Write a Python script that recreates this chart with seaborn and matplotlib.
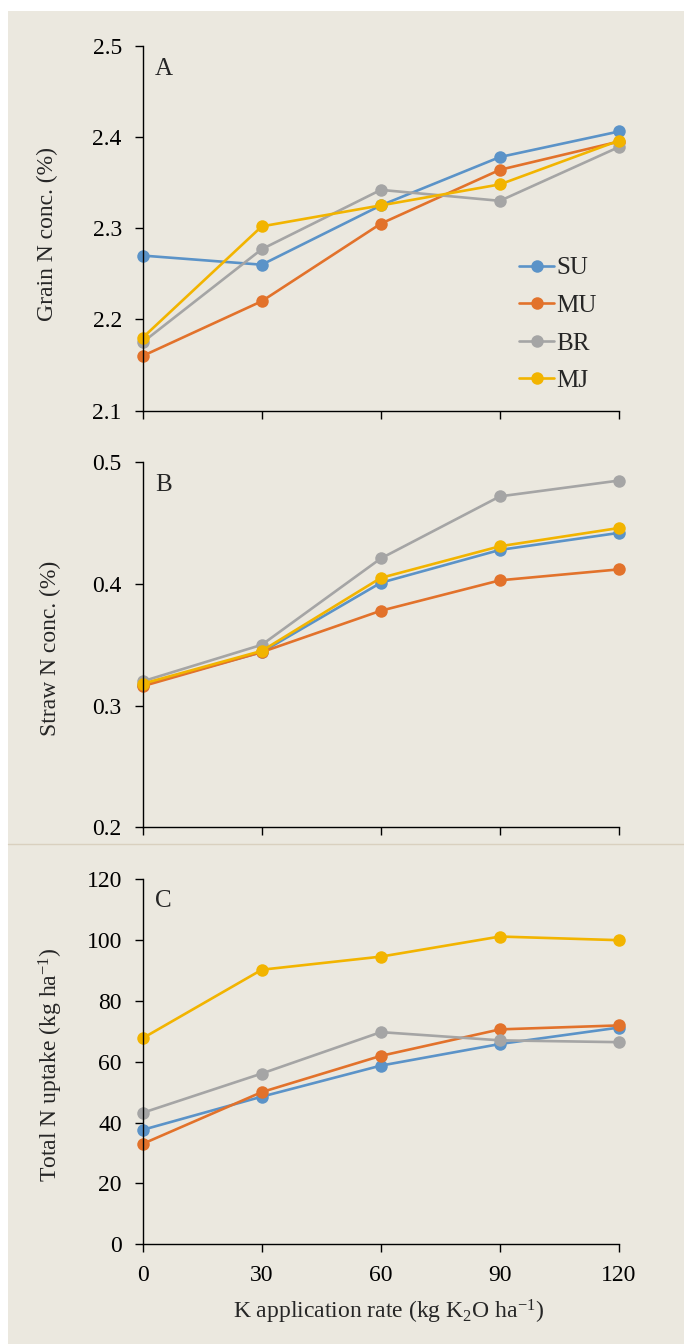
import numpy as np
import pandas as pd
import matplotlib
matplotlib.use("Agg")
import matplotlib.pyplot as plt
import matplotlib.font_manager as fm
import seaborn as sns
from matplotlib.patches import Rectangle
from matplotlib.lines import Line2D

# ---------------- data ----------------
K_rates = [0, 30, 60, 90, 120]
cultivars = ["SU", "MU", "BR", "MJ"]

grain_SU = [2.270, 2.260, 2.325, 2.378, 2.406]
grain_MU = [2.160, 2.220, 2.305, 2.364, 2.395]
grain_BR = [2.175, 2.277, 2.342, 2.330, 2.389]
grain_MJ = [2.180, 2.302, 2.325, 2.348, 2.396]

straw_SU = [0.317, 0.344, 0.401, 0.428, 0.442]
straw_MU = [0.316, 0.344, 0.378, 0.403, 0.412]
straw_BR = [0.320, 0.350, 0.421, 0.472, 0.485]
straw_MJ = [0.318, 0.345, 0.405, 0.431, 0.446]

uptake_SU = [37.6, 48.5, 58.7, 65.8, 71.2]
uptake_MU = [33.0, 50.0, 61.9, 70.6, 71.9]
uptake_BR = [43.2, 56.1, 69.7, 67.0, 66.4]
uptake_MJ = [67.7, 90.2, 94.5, 101.1, 99.9]

grain_ticks = [2.1, 2.2, 2.3, 2.4, 2.5]
straw_ticks = [0.2, 0.3, 0.4, 0.5]
uptake_ticks = [0, 20, 40, 60, 80, 100, 120]

colors = {"SU": "#5B93C8", "MU": "#E2722B", "BR": "#A5A5A5", "MJ": "#F2B400"}

# ---------------- style ----------------
sns.set_theme(style="ticks")
installed = {f.name for f in fm.fontManager.ttflist}
serif = next((n for n in ["Liberation Serif", "Times New Roman", "Nimbus Roman",
                          "STIXGeneral", "DejaVu Serif"] if n in installed), "DejaVu Serif")
plt.rcParams["font.family"] = [serif, "DejaVu Serif"]
plt.rcParams["mathtext.fontset"] = "custom"
plt.rcParams["mathtext.rm"] = serif
plt.rcParams["mathtext.it"] = serif + ":italic"
plt.rcParams["mathtext.default"] = "regular"

W, H = 684, 1344
fig = plt.figure(figsize=(W / 100, H / 100), dpi=100)
fig.patch.set_facecolor("white")
fig.patches.append(Rectangle((8 / W, 0), 1 - 8 / W, 1 - 11 / H, transform=fig.transFigure,
                             facecolor="#EBE8DF", edgecolor="none", zorder=-10))
fig.add_artist(Line2D([8 / W, 1], [1 - 844 / H] * 2, color="#D9D0BF", lw=1.0))


def make_axes(left, right, top, bottom):
    return fig.add_axes([left / W, 1 - bottom / H, (right - left) / W, (bottom - top) / H])


panels = [
    dict(series=[grain_SU, grain_MU, grain_BR, grain_MJ], box=(142.7, 619, 45.7, 410.7),
         ylim=(2.1, 2.5), ticks=grain_ticks, fmt="{:.1f}", letter="A", letter_y=69,
         ylabel="Grain N conc. (%)", ylabel_x=47, ylabel_y=234, xlabels=False),
    dict(series=[straw_SU, straw_MU, straw_BR, straw_MJ], box=(142.7, 619, 462.3, 827.3),
         ylim=(0.2, 0.5), ticks=straw_ticks, fmt="{:.1f}", letter="B", letter_y=485,
         ylabel="Straw N conc. (%)", ylabel_x=50, ylabel_y=648, xlabels=False),
    dict(series=[uptake_SU, uptake_MU, uptake_BR, uptake_MJ], box=(142.7, 619, 879, 1244.3),
         ylim=(0, 120), ticks=uptake_ticks, fmt="{:.0f}", letter="C", letter_y=901,
         ylabel="Total N uptake (kg ha$^{-1}$)", ylabel_x=51, ylabel_y=1065, xlabels=True),
]

for i, p in enumerate(panels):
    left, right, top, bottom = p["box"]
    ax = make_axes(left, right, top, bottom)
    df = pd.DataFrame({
        "K": K_rates * len(cultivars),
        "value": np.concatenate(p["series"]),
        "Cultivar": np.repeat(cultivars, len(K_rates)),
    })
    sns.lineplot(data=df, x="K", y="value", hue="Cultivar", hue_order=cultivars,
                 palette=colors, marker="o", markersize=9, markeredgewidth=0,
                 linewidth=1.9, ax=ax, legend=False)
    for ln in ax.lines:
        ln.set_clip_on(False)
    ax.set_facecolor("none")
    ax.set_xlim(0, 120)
    ax.set_ylim(*p["ylim"])
    ax.set_xticks(K_rates)
    ax.set_yticks(p["ticks"])
    ax.set_yticklabels([p["fmt"].format(t) for t in p["ticks"]])
    ax.set_xlabel("")
    ax.set_ylabel("")
    sns.despine(ax=ax)
    for s in ["left", "bottom"]:
        ax.spines[s].set_color("black")
        ax.spines[s].set_linewidth(1.0)
    ax.tick_params(direction="out", length=6, width=1, color="black", labelsize=17,
                   labelcolor="black", pad=9)
    if not p["xlabels"]:
        ax.tick_params(axis="x", labelbottom=False)
    fig.text(155 / W, 1 - p["letter_y"] / H, p["letter"], fontsize=18, ha="left", va="center")
    fig.text(p["ylabel_x"] / W, 1 - p["ylabel_y"] / H, p["ylabel"], fontsize=17,
             rotation=90, ha="center", va="center")
    if i == 0:
        handles = [Line2D([], [], color=colors[c], marker="o", markersize=9, markeredgewidth=0,
                          linewidth=1.9) for c in cultivars]
        ax.legend(handles, cultivars, loc="upper left", bbox_to_anchor=(519 / W, 1 - 257 / H),
                  bbox_transform=fig.transFigure, frameon=False, fontsize=18,
                  handlelength=1.4, handletextpad=0.1, labelspacing=0.6,
                  borderpad=0, borderaxespad=0)
    if i == 2:
        fig.text(389 / W, 1 - 1312 / H, "K application rate (kg K$_{2}$O ha$^{-1}$)",
                 fontsize=17, ha="center", va="center")

fig.savefig("out.png", dpi=100)
